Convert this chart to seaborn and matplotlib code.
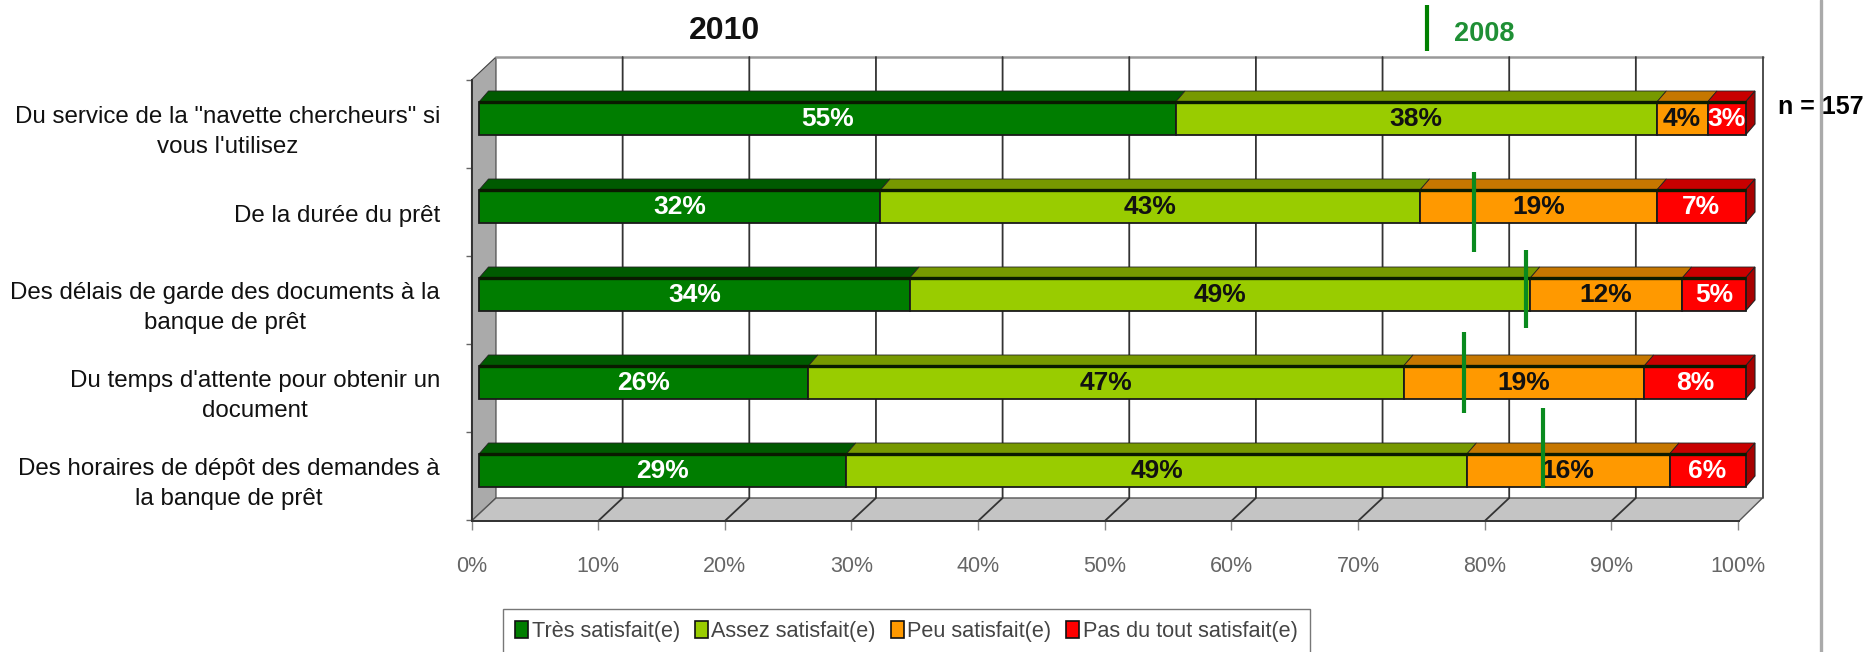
import numpy as np
import pandas as pd
import seaborn as sns
import matplotlib.pyplot as plt
from matplotlib.patches import Polygon, Rectangle

questions = ['Du service de la "navette chercheurs" si\nvous l\'utilisez',
             'De la durée du prêt',
             'Des délais de garde des documents à la\nbanque de prêt',
             'Du temps d\'attente pour obtenir un\ndocument',
             'Des horaires de dépôt des demandes à\nla banque de prêt']
tres = [55, 31.7, 34, 26, 29]
assez = [38, 42.6, 49, 47, 49]
peu = [4, 18.7, 12, 19, 16]
pas = [3, 7, 5, 8, 6]
marks_2008 = [None, 78.6, 82.7, 77.8, 84]
series_names = ['Très satisfait(e)', 'Assez satisfait(e)', 'Peu satisfait(e)', 'Pas du tout satisfait(e)']
x_ticks = [0, 10, 20, 30, 40, 50, 60, 70, 80, 90, 100]

face_cols = ['#007d00', '#99cc00', '#ff9900', '#ff0000']
top_cols = ['#005a00', '#779900', '#c67700', '#c80000']
text_cols = ['white', '#111111', '#111111', 'white']

W, H = 1870, 652

sns.set_theme(style='white')
plt.rcParams['font.family'] = ['Liberation Sans', 'DejaVu Sans']

# pixel to data helpers, bars run 479..1745.5 px and rows are 88 px apart
px_x = 100 / 1266.5
px_y = 1 / 88


def xp(p):
    return (p - 479) * px_x


def yp(p):
    return (p - 118.5) * px_y


fig = plt.figure(figsize=(W / 100, H / 100), dpi=100)
ax = fig.add_axes([0, 0, 1, 1])
ax.patch.set_alpha(0)

table = pd.DataFrame({'question': questions, 'tres': tres, 'assez': assez, 'peu': peu, 'pas': pas})
cols = ['tres', 'assez', 'peu', 'pas']

# walls and floor of the 3d box
ax.add_patch(Polygon([(xp(471.5), yp(80)), (xp(496), yp(57)), (xp(496), yp(498)), (xp(471.5), yp(521))],
                     fc='#aaaaaa', ec='#404040', lw=0.8, zorder=0.5))
ax.add_patch(Polygon([(xp(471.5), yp(521)), (xp(496), yp(498)), (xp(1762.5), yp(498)), (xp(1739), yp(521))],
                     fc='#c4c4c4', ec='#555555', lw=1, zorder=0.5))
ax.plot([xp(496), xp(1762.5)], [yp(57), yp(57)], color='#999999', lw=1.8, zorder=0.6)
ax.plot([xp(1762.5)] * 2, [yp(57), yp(498)], color='#404040', lw=1.3, zorder=0.6)
for v in x_ticks[1:-1]:
    back = xp(496) + v
    front = xp(471.5) + v
    ax.plot([back, back, front], [yp(57), yp(498), yp(521)], color='#333333', lw=1.3, zorder=0.7)

left = np.zeros(len(questions))
for k, col in enumerate(cols):
    vals = table[col].to_numpy()
    sns.barplot(data=table, x=col, y='question', order=questions, left=left, color=face_cols[k],
                saturation=1, width=33 / 88, edgecolor='#1a1a1a', linewidth=1.3, ax=ax, zorder=3)
    for i, v in enumerate(vals):
        yt = i - 33 / 88 / 2
        # top face of each segment, the 3d depth is 9.5 px across and 11 px up
        ax.add_patch(Polygon([(left[i], yt), (left[i] + v, yt),
                              (left[i] + v + 9.5 * px_x, yt - 11 * px_y), (left[i] + 9.5 * px_x, yt - 11 * px_y)],
                             fc=top_cols[k], ec='#222222', lw=0.6, zorder=2.5))
        ax.plot([left[i], left[i] + v], [yt, yt], color='#0a1a00', lw=2.4, zorder=3.1, solid_capstyle='butt')
        ax.text(left[i] + v / 2, i + 0.01, f'{round(v)}%', color=text_cols[k], ha='center', va='center',
                fontsize=19, fontweight='bold', zorder=5)
    left = left + vals

# right hand side of the bars
for i in range(len(questions)):
    yt = i - 33 / 88 / 2
    yb = i + 33 / 88 / 2
    ax.add_patch(Polygon([(100, yt), (100 + 9.5 * px_x, yt - 11 * px_y), (100 + 9.5 * px_x, yb - 11 * px_y), (100, yb)],
                         fc='#a80000', ec='#222222', lw=0.8, zorder=2.6))

# 2008 markers
tops = [172, 250, 332, 408]
bottoms = [252, 328, 413, 488]
for v, t, b in zip(marks_2008[1:], tops, bottoms):
    ax.plot([v, v], [yp(t), yp(b)], color='#0a8a1e', lw=3, zorder=6, solid_capstyle='butt')
ax.plot([xp(1427)] * 2, [yp(5), yp(51)], color='#008000', lw=3, solid_capstyle='butt')
ax.text(xp(1484), yp(34), '2008', color='#1f8f35', ha='center', va='center', fontsize=19.5, fontweight='bold')
ax.text(xp(724.5), yp(31), '2010', color='#111111', ha='center', va='center', fontsize=23, fontweight='bold')
ax.text(xp(1778), yp(107), 'n = 157', color='black', ha='left', va='center', fontsize=18, fontweight='bold')
ax.plot([xp(1821)] * 2, [yp(0), yp(652)], color='#aaaaaa', lw=2.4, zorder=1)

# axes: real ticks sit on the front plane of the box
ax.set_xlim(xp(0), xp(W))
ax.set_ylim(yp(H), yp(0))
sns.despine(ax=ax, top=True, right=True)
ax.spines['left'].set_position(('data', xp(471.5)))
ax.spines['bottom'].set_position(('data', yp(521)))
ax.spines['left'].set_bounds(yp(80), yp(521))
ax.spines['bottom'].set_bounds(xp(471.5), xp(1739))
for s in ['left', 'bottom']:
    ax.spines[s].set_color('#333333')
    ax.spines[s].set_linewidth(1.4)
ax.set_xticks([xp(471.5) + v for v in x_ticks])
ax.set_xticklabels([f'{v}%' for v in x_ticks], fontsize=15.5, color='#666666')
ax.tick_params(axis='x', bottom=True, length=6.5, width=1, color='#888888', pad=19)
ax.set_yticks([i + 0.08 for i in range(len(questions))])
ax.set_yticklabels(questions, fontsize=17.4, color='#111111', ma='center', linespacing=1.45)
ax.set_yticks([yp(80 + 88 * i) for i in range(6)], minor=True)
ax.tick_params(axis='y', which='major', left=False, length=0, pad=(471.5 - 440) * 0.72)
ax.tick_params(axis='y', which='minor', left=True, length=4, width=1, color='#666666')
ax.set_xlabel('')
ax.set_ylabel('')

# legend, its lower edge falls off the picture like in the source
handles = [Rectangle((0, 0), 1, 1, fc=c, ec='#111111', lw=1.2) for c in face_cols]
leg = ax.legend(handles, series_names, loc='upper left', bbox_to_anchor=(503 / W, 1 - 609 / H), ncol=4,
                frameon=True, fancybox=False, edgecolor='#777777', facecolor='white', framealpha=1,
                fontsize=15.6, handlelength=0.62, handleheight=0.8, handletextpad=0.15, columnspacing=0.68,
                borderpad=0.55, borderaxespad=0, labelcolor='#444444')

fig.savefig('out.png', dpi=100)
